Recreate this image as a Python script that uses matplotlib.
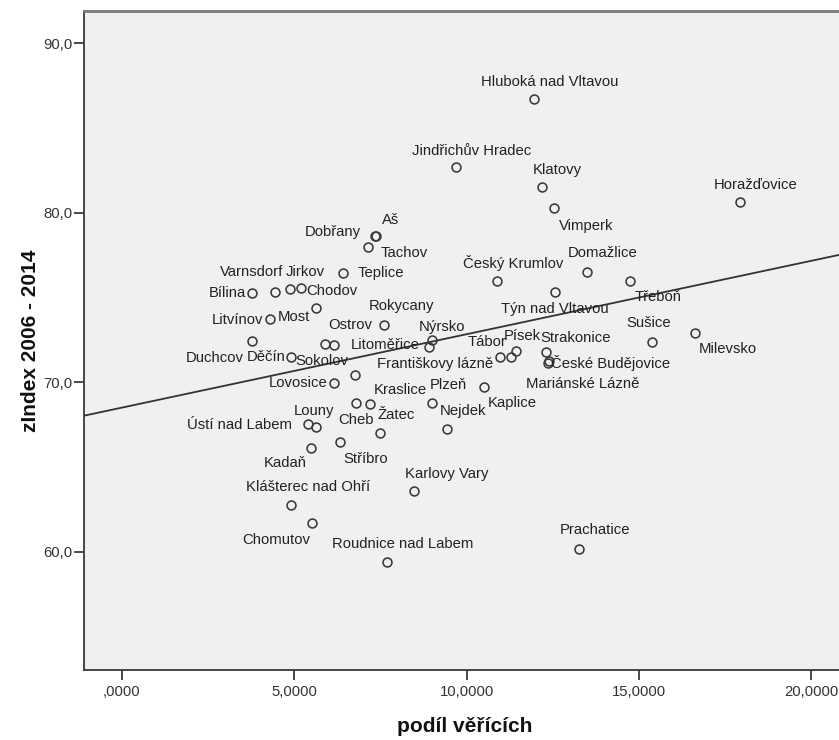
"""
Scatter of zIndex 2006-2014 against share of believers, SPSS look.
"""

import matplotlib
matplotlib.use("Agg")
import matplotlib.pyplot as plt
from matplotlib.ticker import FuncFormatter
import numpy as np

plt.rcParams["font.family"] = ["Liberation Sans", "DejaVu Sans"]

# -------------------------------------------------------
# DATA
# -------------------------------------------------------
towns = [
    "Hluboká nad Vltavou", "Jindřichův Hradec", "Klatovy", "Vimperk", "Horažďovice",
    "Aš", "Dobřany", "Tachov", "Teplice", "Bílina",
    "Varnsdorf", "Jirkov", "Chodov", "Most", "Litvínov",
    "Rokycany", "Ostrov", "Sokolov", "Duchcov", "Děčín",
    "Lovosice", "", "Litoměřice", "Nýrsko", "Františkovy lázně",
    "Tábor", "Písek", "Strakonice", "České Budějovice", "Mariánské Lázně",
    "Český Krumlov", "Domažlice", "Třeboň", "Týn nad Vltavou", "Sušice",
    "Milevsko", "Kaplice", "Plzeň", "Nejdek", "Kraslice",
    "Cheb", "Ústí nad Labem", "Louny", "Žatec", "Stříbro",
    "Kadaň", "Karlovy Vary", "Klášterec nad Ohří", "Chomutov", "Roudnice nad Labem",
    "Prachatice",
]

podil_vericich = [
    11.96, 9.69, 12.19, 12.55, 17.93,
    7.36, 7.35, 7.13, 6.42, 3.78,
    4.43, 4.88, 5.19, 5.62, 4.29,
    7.61, 5.89, 6.16, 3.78, 4.90,
    6.16, 6.77, 8.92, 9.00, 10.97,
    11.29, 11.43, 12.30, 12.35, 12.40,
    10.87, 13.49, 14.74, 12.56, 15.38,
    16.62, 10.50, 8.99, 9.42, 7.21,
    6.78, 5.41, 5.62, 7.50, 6.33,
    5.49, 8.48, 4.90, 5.51, 7.69,
    13.25,
]

zindex = [
    86.70, 82.70, 81.50, 80.30, 80.62,
    78.65, 78.62, 78.00, 76.43, 75.25,
    75.35, 75.50, 75.58, 74.37, 73.72,
    73.38, 72.26, 72.18, 72.45, 71.51,
    69.98, 70.43, 72.10, 72.50, 71.47,
    71.51, 71.83, 71.81, 71.16, 71.26,
    75.98, 76.49, 76.00, 75.33, 72.38,
    72.89, 69.74, 68.78, 67.24, 68.70,
    68.76, 67.52, 67.38, 66.99, 66.50,
    66.11, 63.59, 62.78, 61.68, 59.42,
    60.16,
]

# fit line as drawn in the original output
fit_intercept = 68.51
fit_slope = 0.433

x_ticks = [0, 5, 10, 15, 20]
y_ticks = [60, 70, 80, 90]

# label placement (pixels from the point, y up) - layout only
label_offsets = [
    (16, 17), (16, 16), (15, 17), (32, -18), (16, 17),
    (15, 16), (-42, 4), (37, -6), (38, 0), (-25, 0),
    (-23, 20), (15, 17), (31, -3), (-22, -9), (-32, -1),
    (17, 19), (25, 19), (-12, -16), (-37, -17), (-25, 0),
    (-36, 0), (0, 0), (-44, 2), (10, 13), (-65, -7),
    (-24, 15), (7, 15), (30, 14), (63, 0), (33, -23),
    (17, 18), (16, 19), (28, -16), (0, -17), (-3, 19),
    (33, -16), (28, -16), (17, 18), (16, 18), (30, 14),
    (0, -17), (-69, -1), (-2, 16), (16, 18), (26, -17),
    (-26, -15), (33, 17), (17, 18), (-36, -17), (16, 18),
    (16, 19),
]

TEXT = "#222222"
AXIS = "#3a3a3a"


def fmt_x(v, pos):
    s = f"{v:.4f}".replace(".", ",")
    return s[1:] if s.startswith("0,") else s


def fmt_y(v, pos):
    return f"{v:.1f}".replace(".", ",")


fig = plt.figure(figsize=(8.39, 7.40), dpi=100)
fig.patch.set_facecolor("white")
ax = fig.add_axes([84 / 839, 70 / 740, 761.6 / 839, 659 / 740])
ax.set_facecolor("#f0f0f0")

ax.set_xlim(-1.10, 21.0)
ax.set_ylim(53.03, 91.91)

# fit line
xs = np.array(ax.get_xlim())
ax.plot(xs, fit_intercept + fit_slope * xs, color="#333333", lw=1.3, zorder=2)

# points
ax.plot(podil_vericich, zindex, linestyle="none", marker="o", ms=6.4,
        mfc="none", mec="#3a3a3a", mew=1.15, zorder=3)

for name, x, y, (dx, dy) in zip(towns, podil_vericich, zindex, label_offsets):
    if not name:
        continue
    ax.annotate(name, xy=(x, y), xytext=(dx, dy), textcoords="offset pixels",
                ha="center", va="center", fontsize=10.7, color=TEXT, zorder=4)

ax.set_xticks(x_ticks)
ax.set_yticks(y_ticks)
ax.xaxis.set_major_formatter(FuncFormatter(fmt_x))
ax.yaxis.set_major_formatter(FuncFormatter(fmt_y))
ax.tick_params(axis="both", direction="out", length=7.2, width=1.3,
               color=AXIS, labelcolor="#333333", labelsize=10.7)
ax.tick_params(axis="y", pad=1.0)
ax.tick_params(axis="x", pad=3.3)

for side in ["left", "bottom"]:
    ax.spines[side].set_color(AXIS)
    ax.spines[side].set_linewidth(1.3)
ax.spines["top"].set_color("#7a7a7a")
ax.spines["top"].set_linewidth(2.0)
ax.spines["right"].set_visible(False)

ax.set_xlabel("podíl věřících", fontsize=15, fontweight="bold", color="#111111")
ax.xaxis.set_label_coords(0.5, -(727 - 670) / 659)
ax.xaxis.label.set_va("center")
ax.set_ylabel("zIndex 2006 - 2014", fontsize=15, fontweight="bold", color="#111111")
ax.yaxis.set_label_coords(-(84 - 31) / 761.6, 0.5)
ax.yaxis.label.set_va("center")

fig.savefig("out.png", dpi=100, facecolor=fig.get_facecolor())
plt.close(fig)
